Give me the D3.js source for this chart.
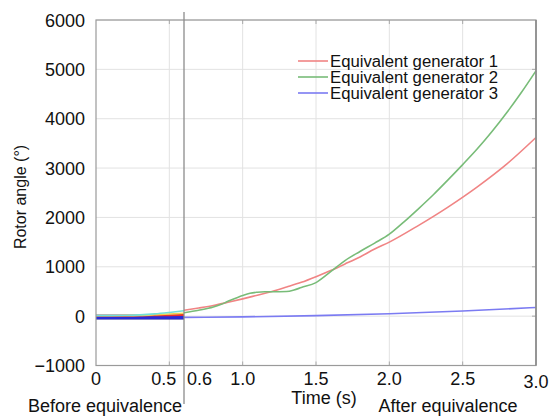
<!DOCTYPE html>
<html><head><meta charset="utf-8">
<script src="https://cdn.jsdelivr.net/npm/d3@7"></script>
<style>body{margin:0;background:#fff;}svg{display:block;font-family:"Liberation Sans",Arial,sans-serif;}</style>
</head><body><svg id="c" width="550" height="416"></svg>
<script>
// ---- data ----
const yTicks = [-1000, 0, 1000, 2000, 3000, 4000, 5000, 6000];
const yTickLabels = ["\u22121000", "0", "1000", "2000", "3000", "4000", "5000", "6000"];
const xTicksBefore = [0, 0.5];
const xTickLabelsBefore = ["0", "0.5"];
const xTicksAfter = [0.6, 1.0, 1.5, 2.0, 2.5, 3.0];
const xTickLabelsAfter = ["0.6", "1.0", "1.5", "2.0", "2.5", "3.0"];

// before equivalence (0 - 0.6 s), original generators
const tBefore = [0, 0.1, 0.2, 0.3, 0.4, 0.5, 0.6];
const beforeCyan   = [15, 15, 18, 26, 45, 75, 110];
const beforeYellow = [8, 8, 10, 16, 28, 42, 58];
const beforeRed    = [12, 12, 12, 13, 16, 20, 25];
const beforeBlue   = [-28, -28, -28, -28, -28, -28, -28];
const beforeNavy   = [-40, -40, -40, -40, -40, -40, -40];

// after equivalence (0.6 - 3.0 s)
const tGen1 = [0.6, 0.7, 0.8, 0.9, 1.0, 1.1, 1.2, 1.3, 1.4, 1.5, 1.6, 1.7, 1.8, 1.9, 2.0, 2.2, 2.4, 2.6, 2.8, 3.0];
const gen1  = [120, 165, 215, 280, 350, 425, 500, 590, 685, 800, 925, 1060, 1200, 1360, 1500, 1840, 2210, 2620, 3080, 3620];
const tGen2 = [0.6, 0.7, 0.8, 0.85, 0.9, 1.0, 1.05, 1.1, 1.15, 1.2, 1.3, 1.35, 1.4, 1.5, 1.6, 1.7, 1.8, 1.9, 2.0, 2.1, 2.2, 2.3, 2.4, 2.5, 2.6, 2.7, 2.8, 2.9, 3.0];
const gen2  = [70, 120, 185, 235, 300, 420, 465, 485, 495, 495, 500, 530, 580, 680, 900, 1130, 1310, 1480, 1660, 1910, 2180, 2460, 2760, 3070, 3390, 3740, 4120, 4530, 4970];
const tGen3 = [0.6, 1.0, 1.5, 2.0, 2.5, 3.0];
const gen3  = [-25, -15, 10, 50, 105, 175];

const seriesNames = ["Equivalent generator 1", "Equivalent generator 2", "Equivalent generator 3"];

// ---- drawing ----
const svg = d3.select("#c");
const L = 96, R = 536, T = 20, B = 365.5, D = 184;
const y = d3.scaleLinear().domain([-1000, 6000]).range([B, T]);
const xB = d3.scaleLinear().domain([0, 0.6]).range([L, D]);
const xA = d3.scaleLinear().domain([0.6, 3.0]).range([D, R]);

const grid = svg.append("g").attr("stroke", "#e2e2e2").attr("stroke-width", 1);
yTicks.forEach(v => grid.append("line").attr("x1", L).attr("x2", R).attr("y1", y(v)).attr("y2", y(v)));
xTicksBefore.slice(1).forEach(v => grid.append("line").attr("x1", xB(v)).attr("x2", xB(v)).attr("y1", T).attr("y2", B));
xTicksAfter.slice(1, -1).forEach(v => grid.append("line").attr("x1", xA(v)).attr("x2", xA(v)).attr("y1", T).attr("y2", B));

// small inner ticks (top, bottom, right)
const tk = svg.append("g").attr("stroke", "#aaa").attr("stroke-width", 1);
const xAll = xTicksBefore.slice(1).map(v => xB(v)).concat(xTicksAfter.slice(1, -1).map(v => xA(v)));
xAll.forEach(px => {
  tk.append("line").attr("x1", px).attr("x2", px).attr("y1", T).attr("y2", T + 4);
  tk.append("line").attr("x1", px).attr("x2", px).attr("y1", B).attr("y2", B - 4);
});
yTicks.slice(1, -1).forEach(v => tk.append("line").attr("x1", R).attr("x2", R - 4).attr("y1", y(v)).attr("y2", y(v)));

// lines
const lineB = d3.line().x(d => xB(d[0])).y(d => y(d[1])).curve(d3.curveMonotoneX);
const lineA = d3.line().x(d => xA(d[0])).y(d => y(d[1])).curve(d3.curveMonotoneX);
const zip = (a, b) => a.map((v, i) => [v, b[i]]);

const before = [
  {v: beforeNavy, c: "#0a0a8a", w: 3},
  {v: beforeBlue, c: "#2a2ad8", w: 3},
  {v: beforeRed, c: "#e83030", w: 2},
  {v: beforeYellow, c: "#f0d050", w: 1.6},
  {v: beforeCyan, c: "#70e0d8", w: 1.6}
];
before.forEach(s => svg.append("path").attr("d", lineB(zip(tBefore, s.v)))
  .attr("fill", "none").attr("stroke", s.c).attr("stroke-width", s.w));

const after = [
  {t: tGen3, v: gen3, c: "#7b7bf2"},
  {t: tGen1, v: gen1, c: "#f08484"},
  {t: tGen2, v: gen2, c: "#78bc78"}
];
after.forEach(s => svg.append("path").attr("d", lineA(zip(s.t, s.v)))
  .attr("fill", "none").attr("stroke", s.c).attr("stroke-width", 1.6));

// frame
svg.append("rect").attr("x", L).attr("y", T).attr("width", R - L).attr("height", B - T)
  .attr("fill", "none").attr("stroke", "#9a9a9a").attr("stroke-width", 1.2);
svg.append("line").attr("x1", R).attr("x2", R).attr("y1", T).attr("y2", B)
  .attr("stroke", "#8a8a8a").attr("stroke-width", 1.6);
svg.append("line").attr("x1", D).attr("x2", D).attr("y1", 12).attr("y2", 404)
  .attr("stroke", "#8c8c8c").attr("stroke-width", 1.3);

// y tick labels
const yl = svg.append("g").attr("font-size", 18).attr("fill", "#111").attr("text-anchor", "end");
yTicks.forEach((v, i) => yl.append("text").attr("x", 85).attr("y", y(v) + 6.5).text(yTickLabels[i]));

// x tick labels
const xl = svg.append("g").attr("font-size", 18).attr("fill", "#111");
xTicksBefore.forEach((v, i) => {
  const t = xl.append("text").attr("y", 385).text(xTickLabelsBefore[i]);
  if (i === xTicksBefore.length - 1) t.attr("x", xB(v) + 7).attr("text-anchor", "end");
  else t.attr("x", xB(v)).attr("text-anchor", "middle");
});
xTicksAfter.forEach((v, i) => {
  const t = xl.append("text").attr("y", i === xTicksAfter.length - 1 ? 388 : 385).text(xTickLabelsAfter[i]);
  if (i === 0) t.attr("x", xA(v) + 3).attr("text-anchor", "start");
  else t.attr("x", xA(v)).attr("text-anchor", "middle");
});

// axis titles
svg.append("text").attr("x", 105).attr("y", 412).attr("text-anchor", "middle").attr("font-size", 18).attr("fill", "#111").text("Before equivalence");
svg.append("text").attr("x", 324).attr("y", 404).attr("text-anchor", "middle").attr("font-size", 18).attr("fill", "#111").text("Time (s)");
svg.append("text").attr("x", 448).attr("y", 412).attr("text-anchor", "middle").attr("font-size", 18).attr("fill", "#111").text("After equivalence");
svg.append("text").attr("transform", "translate(26,197) rotate(-90)").attr("text-anchor", "middle")
  .attr("font-size", 16).attr("fill", "#111").text("Rotor angle (\u00b0)");

// legend
const legColors = ["#f08484", "#78bc78", "#7b7bf2"];
const lg = svg.append("g");
seriesNames.forEach((n, i) => {
  const yy = 61 + i * 16;
  lg.append("line").attr("x1", 298).attr("x2", 328).attr("y1", yy).attr("y2", yy).attr("stroke", legColors[i]).attr("stroke-width", 1.6);
  lg.append("text").attr("x", 330).attr("y", yy + 5.5).attr("font-size", 16).attr("textLength", 168).attr("lengthAdjust", "spacingAndGlyphs").attr("fill", "#111").text(n);
});
</script></body></html>
